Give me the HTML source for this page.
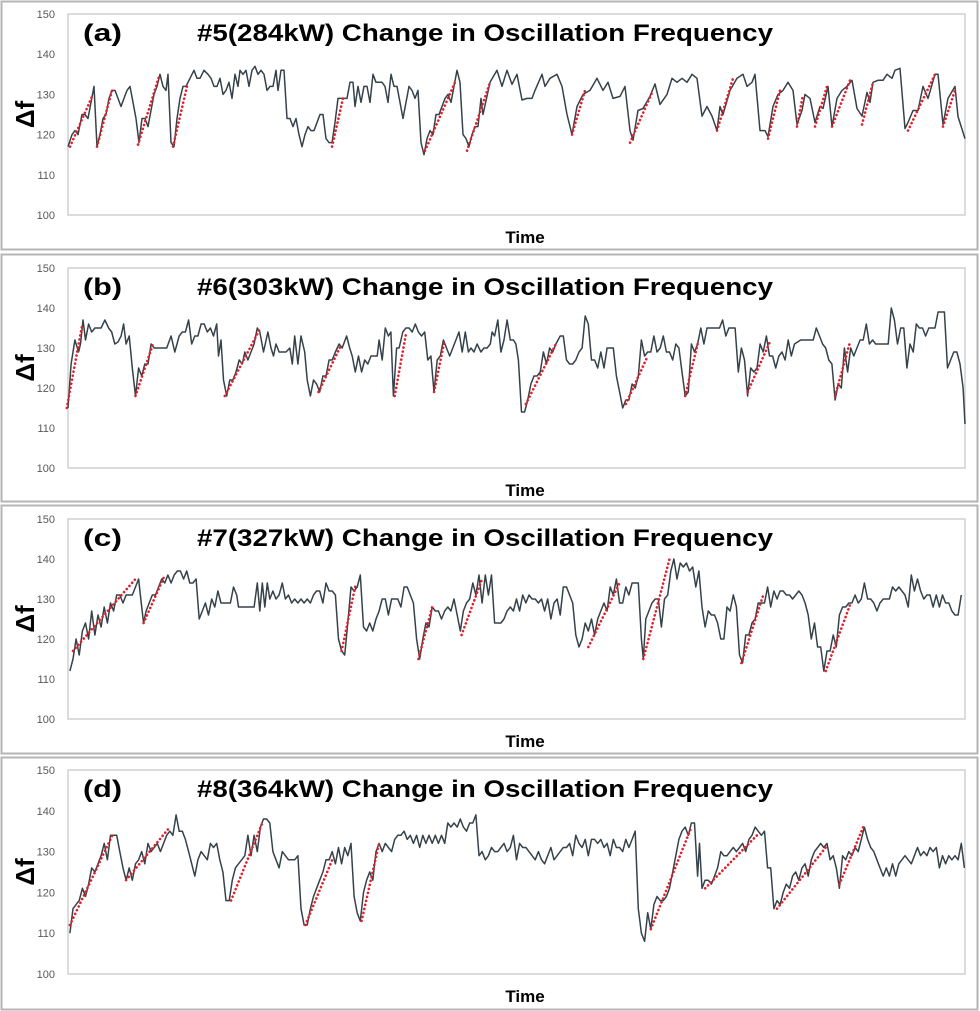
<!DOCTYPE html>
<html><head><meta charset="utf-8"><style>
html,body{margin:0;padding:0;background:#fff;}
svg{display:block;font-family:"Liberation Sans",sans-serif;}
</style></head><body>
<svg id="fig" width="980" height="1011" viewBox="0 0 980 1011"></svg>
<script>
// Panel (a): time in pixel-index units (domain 68..965)
const tA=[68,72,75,78,82,85,88,91,94,97,100,103,106,109,112,115,118,121,124,127,130,133,136,139,142,145,148,151,154,157,160,163,166,168,171,174,177,180,183,186,190,194,197,200,204,208,211,214,217,220,223,226,229,232,235,238,240,243,246,249,252,255,258,261,264,267,270,273,276,278,281,284,287,290,293,296,299,302,305,308,311,314,317,320,323,326,329,332,335,338,341,344,347,350,353,355,358,361,364,367,370,373,376,379,382,385,388,391,394,397,400,403,406,409,412,415,418,421,424,427,430,433,436,439,442,445,448,451,454,457,460,463,466,469,472,475,478,481,483,490,497,502,507,512,517,522,527,532,535,542,545,550,557,562,567,572,577,583,590,597,603,608,613,620,625,630,633,638,643,650,655,660,667,672,677,682,687,692,697,702,707,712,717,720,723,730,737,743,747,752,755,760,765,768,773,778,783,788,793,797,802,805,810,815,820,823,828,832,837,842,847,852,857,862,867,870,873,878,883,887,892,895,900,905,908,913,918,923,928,935,938,943,948,955,958,965];
const vA=[117,120,121,120,125,125,124,128,132,117,120,124,125,129,131,131,129,127,129,131,132,128,124,118,124,124,122,126,130,132,135,132,131,135,118,117,124,129,132,132,134,136,134,134,136,135,134,132,132,134,130,131,133,129,135,132,136,135,136,132,136,137,135,136,135,131,132,132,136,131,136,136,124,124,122,124,120,117,120,122,121,121,123,125,125,119,118,118,123,129,129,129,129,133,133,127,132,128,132,132,128,135,133,133,133,132,128,135,132,132,128,124,128,132,131,129,131,118,115,119,121,120,125,125,127,129,130,128,132,136,133,120,119,117,120,122,122,129,125,133,136,132,136,132.5,135,128.6,129,129,131,135,132,134,135,132,125,120,127,130,131,134,131,133,129,129.5,132,121,118.6,126,126.5,129.5,132.6,127.5,130,134,133,134,133,135,134,124.6,127,124.6,121,127,125,131,134,135,132,133,135,121,121,119.5,127,130,131,133,131,122.5,126,130,129,123,127,126.5,132,122,129,131,132,133.5,126.5,124.6,130.5,128,133,133.5,133.5,135,134,136,136.5,121.5,123,126,126,132,129,135,135,122.5,129,132,124.5,119];
const rA=[[70,117,93,130],[97,117,112,131],[138,117.5,159,134.5],[173,117,187,132],[332,117,343,129],[425,116,455,133],[467,116,490,133],[572,120,585,131],[630,118,653,131],[717,121,733,134],[768,119,780,131],[797,122,803,130],[815,122,827,132],[832,122,850,133.5],[862,122.5,873,133],[908,121,935,135],[943,122,955,131]];

// Panels (b)-(d): time in index units (domain 107..1543)
const tB=[107,112,118,124,127,131,135,140,145,150,160,166,172,177,182,187,192,196,200,205,210,215,220,225,230,235,240,245,255,265,272,278,285,290,295,300,305,310,315,320,325,330,335,340,345,348,352,356,361,366,371,376,381,386,390,395,400,405,410,414,420,427,432,436,440,445,450,456,462,466,470,475,480,486,490,495,500,505,510,515,520,525,530,535,541,546,553,558,562,567,572,577,582,587,592,597,602,605,610,615,620,624,628,633,637,643,648,653,658,663,668,673,678,683,688,693,698,703,708,713,718,723,728,733,738,743,748,752,757,762,768,773,778,783,786,790,795,800,805,810,815,820,824,828,833,838,843,848,853,858,863,868,873,878,883,888,895,900,905,910,915,920,925,930,935,940,945,950,955,960,965,970,975,980,985,990,995,1000,1005,1010,1015,1020,1025,1030,1035,1040,1045,1050,1055,1060,1065,1070,1075,1080,1085,1090,1095,1100,1105,1110,1115,1120,1125,1130,1140,1150,1155,1160,1165,1175,1180,1185,1190,1195,1200,1205,1210,1215,1220,1225,1230,1235,1240,1245,1250,1255,1260,1265,1270,1280,1290,1300,1305,1310,1315,1320,1325,1330,1335,1340,1345,1350,1355,1360,1365,1370,1375,1380,1385,1390,1395,1400,1420,1425,1430,1435,1440,1445,1450,1455,1460,1465,1470,1475,1480,1485,1490,1495,1500,1510,1515,1520,1525,1530,1535,1540,1543];
const vB=[115,126,132,129,131,137,132,136,134,135,135,137,135,134,131,131.5,133,136,131,133,125,118,125,123,126,126,131,130,130,130,133,129,133,134,134,137,131,133,133,136,136,134,135,133,136,128,132,122,118,122,122,124,127,126,129,127,129,131,135,134,129,134,130,128,131,129,129,129,130,126,133,126,133,129,122,118,122,121,119,123,123,127,127,129,131,130,133,130,128,124,128,124,127,126,128,128,128,132,127,135,133,134,118,130,130,134,135,135,134,136,134,133,134,127,128,119,127,128,132,130,128,130,132,134,129,134,129,130,129,131,129,130,130,131,134,133,137,129,132,137,132,132,131,127,114,114,117,121,123,123,124,129,126,130,129,131,133,133,127,126,126,127,129,130,138,136,127,127,125,129,125,130,130,130,123,119,115,117,117,121,120,123,132,128,129,129,133,129,130,133,129,129,127,131,130,124,118,119,131,129,131,135,131,135,135,135,137,133,135,135,124,130,127,118,125,124,125,131,129,133,128,128,125,128,129,127,132,128,131,132,132,132,135,133,131,130,127,126,117,121,120,130,124,130,128,130,132,132,136,131,132,131,131,140,137,131,135,135,125,131,129,136,135,135,133,135,135,135,139,139,125,127,129,129,126,120,111];
const rB=[[105,115,130,136],[215,118,243,131],[358,118,415,135],[508,119,545,131],[630,118,648,133.5],[693,119,710,132],[840,116,888,131],[1000,116,1035,128],[1095,118,1115,131],[1195,119,1232,132],[1335,118,1358,131]];

const tC=[110,115,120,125,130,135,140,145,150,155,160,165,170,175,180,185,190,195,200,210,215,220,225,228,232,237,242,247,252,257,262,267,272,277,282,287,292,297,302,307,312,317,322,327,332,337,342,347,352,357,362,367,372,377,380,390,400,405,410,414,418,422,426,430,435,440,445,450,455,460,465,470,475,480,485,490,495,500,505,510,515,520,525,530,535,540,545,550,555,560,565,570,575,580,585,590,595,600,605,610,615,620,625,630,635,640,645,650,655,660,665,670,675,680,685,690,695,700,705,710,715,720,725,730,735,740,745,750,755,760,765,770,775,780,785,790,795,800,805,810,815,820,825,830,835,840,845,850,855,860,865,870,875,880,885,890,895,900,905,910,915,920,925,930,935,940,945,950,955,960,965,970,975,980,985,990,995,1000,1005,1010,1015,1020,1025,1028,1032,1037,1042,1047,1052,1057,1062,1067,1072,1077,1082,1087,1092,1097,1102,1107,1112,1117,1122,1127,1132,1137,1142,1147,1152,1157,1162,1167,1172,1177,1182,1187,1192,1197,1202,1207,1212,1217,1222,1227,1232,1237,1242,1247,1252,1257,1262,1267,1272,1277,1282,1287,1292,1297,1302,1307,1312,1317,1322,1327,1332,1337,1342,1347,1352,1357,1362,1367,1372,1377,1382,1387,1392,1397,1402,1407,1412,1417,1422,1427,1432,1437,1442,1447,1452,1457,1462,1467,1472,1477,1482,1487,1492,1497,1502,1507,1512,1517,1522,1527,1532,1537];
const vC=[112,115,120,116,122,124,120,127,121,126,123,128,124,129,127,131,131,129,131,131,133,135,128,124,127,129,131,131,133,135,134,136,134,136,137,137,135,137,134,134,135,125,127,129,126,130,128,132,129,129,129,129,133,131,128,128,128,128,134,127,134,128,134,130,132,130,131,134,130,131,129,130,129,130,129,130,129,131,132,132,129,134,132,132,131,120,117,116,124,133,132,133,136,123,122,124,122,125,127,130,130,126,130,130,130,128,133,133,131,129,120,115,120,124,123,128,127,127,125,127,128,127,130,126,122,127,129,130,134,131,136,129,136,131,136,124,124,124,125,127,128,127,130,127,131,129,131,130,130,129,130,127,130,125,129,130,126,133,133,131,129,121,118,120,124,122,125,121,125,127,129,127,133,131,135,129,129,133,131,134,134,134,120,115,125,127,129,130,130,123,130,131,137,140,135,139,138,139,137,138,133,137,128,123,127,126,126,124,120,120,128,127,131,128,116,114,121,121,124,125,129,129,129,133,128,132,130,132,132,131,131,130,131,132,131,129,126,120,124,118,118,112,117,117,121,118,126,128,128,129,129,131,129,130,134,130,130,129,127,129,130,130,130,133,132,133,132,131,128,136,132,135,132,130,131,131,128,131,128,131,129,129,127,126,126,131];
const rC=[[115,117,215,135],[228,124,262,136],[545,117,568,134],[668,115,690,128],[737,121,770,135],[940,118,990,134],[1028,115,1070,140],[1185,114,1220,131],[1320,112,1360,129]];

const tD=[110,115,120,125,130,135,140,145,150,155,160,165,170,175,180,185,190,195,200,205,210,215,220,225,230,235,240,245,250,255,260,265,270,275,280,285,290,295,300,305,310,315,320,325,330,335,340,345,350,355,360,365,370,375,380,385,390,395,400,405,410,415,420,425,430,435,440,445,450,455,460,470,475,480,485,490,495,500,505,510,515,520,525,530,535,540,545,550,555,560,565,570,575,580,585,590,595,600,605,610,615,620,625,630,635,640,645,650,655,660,665,670,675,680,685,690,695,700,705,710,715,720,725,730,735,740,745,750,755,760,765,770,775,780,785,790,795,800,805,810,815,820,825,830,835,840,845,850,855,860,865,870,875,880,885,890,895,900,905,910,915,920,925,930,935,940,945,950,955,960,965,970,975,980,985,990,995,1000,1005,1010,1015,1020,1025,1030,1035,1040,1045,1050,1055,1060,1065,1070,1075,1080,1085,1090,1095,1100,1105,1110,1115,1118,1122,1127,1132,1137,1142,1147,1152,1157,1162,1167,1172,1177,1182,1187,1192,1197,1202,1207,1212,1217,1222,1227,1232,1237,1242,1247,1252,1257,1262,1267,1272,1277,1282,1287,1292,1297,1302,1307,1312,1317,1322,1327,1332,1337,1342,1347,1352,1357,1362,1367,1372,1377,1382,1387,1392,1397,1402,1407,1412,1417,1422,1427,1432,1437,1442,1447,1452,1457,1462,1467,1472,1477,1482,1487,1492,1497,1502,1507,1512,1517,1522,1527,1532,1537,1542];
const vD=[110,116,117,118,121,119,122,126,125,127,129,132,128,134,134,134,130,126,123,126,123,127,128,130,127,132,130,131,132,130,132,134,135,134,139,135,135,133,130,127,124,128,130,129,128,132,131,132,128,125,118,118,123,126,127,128,129,134,129,134,130,136,138,138,137,130,128,126,130,129,128,128,129,116,112,112,116,119,121,123,125,128,128,130,127,131,127,131,129,132,119,115,113,120,123,125,123,130,132,130,132,131,130,133,134,134,135,133,134,132,134,131,134,132,134,132,134,132,134,132,137,136,137,136,138,136,135,137,137,139,129,130,128,129,131,130,130,131,132,130,131,134,128,132,131,131,130,129,128,130,128,127,129,131,128,129,130,131,131,132,129,134,132,131,133,129,133,133,132,133,131,132,129,133,131,131,130,133,131,133,135,116,110,108,115,111,117,119,118,118,119,121,125,129,133,135,136,134,137,137,124,132,121,123,123,122,124,126,130,129,129,130,131,130,131,132,130,133,134,136,135,134,135,126,126,116,118,117,120,122,121,124,125,123,126,127,124,128,130,131,132,131,132,128,129,126,121,129,128,130,129,131,130,133,136,133,131,130,128,126,124,126,124,127,124,127,128,129,128,127,129,131,129,130,129,131,130,131,126,129,127,129,128,129,128,132,126];
const rD=[[110,112,178,134],[200,123,270,136],[368,118,418,137],[487,112,530,128],[577,113,605,132],[1040,111,1105,136],[1127,121,1210,134],[1242,116,1320,131],[1342,122,1380,136]];

const yTicks=[100,110,120,130,140,150];
const labels=['(a)','(b)','(c)','(d)'];
const titles=['#5(284kW) Change in Oscillation Frequency','#6(303kW) Change in Oscillation Frequency','#7(327kW) Change in Oscillation Frequency','#8(364kW) Change in Oscillation Frequency'];

const NS='http://www.w3.org/2000/svg';
const svg=document.getElementById('fig');
function mk(tag,attrs,parent,text){const e=document.createElementNS(NS,tag);for(const k in attrs)e.setAttribute(k,attrs[k]);if(text!==undefined)e.textContent=text;(parent||svg).appendChild(e);return e;}

const panels=[
 {t:tA,v:vA,r:rA,d0:68,d1:965,boxTop:1,boxBot:249,top:14,bot:215},
 {t:tB,v:vB,r:rB,d0:107,d1:1543,boxTop:254,boxBot:501,top:268,bot:468},
 {t:tC,v:vC,r:rC,d0:107,d1:1543,boxTop:505,boxBot:753,top:519,bot:719},
 {t:tD,v:vD,r:rD,d0:107,d1:1543,boxTop:757,boxBot:1009,top:770,bot:974}
];
const X0=68,X1=965;
panels.forEach((p,i)=>{
  const g=mk('g',{});
  
  
  const xs=t=>X0+(t-p.d0)/(p.d1-p.d0)*(X1-X0);
  const ys=v=>p.bot-(v-100)/50*(p.bot-p.top);
  const box=mk('rect',{x:1.5,y:p.boxTop+0.5,width:976,height:p.boxBot-p.boxTop,fill:'#fff',stroke:'#b5b5b5','stroke-width':2},g);
  
  
  const pa=mk('rect',{x:X0,y:p.top,width:X1-X0,height:p.bot-p.top,fill:'none',stroke:'#d0d0d0','stroke-width':1.5},g);
  
  
  yTicks.forEach(tv=>{
    const tl=mk('text',{x:55,y:ys(tv)+4,'text-anchor':'end','font-size':11,fill:'#595959'},g,String(tv));
    
    
  });
  const cy=(p.top+p.bot)/2;
  const yt=mk('text',{x:0,y:0,transform:`translate(34,${cy}) rotate(-90)`,'text-anchor':'middle','font-size':26,'font-weight':'bold',fill:'#000'},g,'Δf');
  
  
  const xt=mk('text',{x:525,y:p.bot+28,'text-anchor':'middle','font-size':17,'font-weight':'bold',fill:'#000'},g,'Time');
  
  
  const lb=mk('text',{x:83,y:p.top+27,'font-size':24,'font-weight':'bold',fill:'#000',textLength:39,lengthAdjust:'spacingAndGlyphs'},g,labels[i]);
  
  
  const tt=mk('text',{x:197,y:p.top+27,'font-size':24,'font-weight':'bold',fill:'#000',textLength:576,lengthAdjust:'spacingAndGlyphs'},g,titles[i]);
  
  
  let d='';
  p.t.forEach((t,k)=>{d+=(k?'L':'M')+xs(t).toFixed(1)+','+ys(p.v[k]).toFixed(1);});
  const ln=mk('path',{d:d,fill:'none',stroke:'#36424a','stroke-width':1.5,'stroke-linejoin':'round'},g);
  
  
  p.r.forEach(s=>{
    const rl=mk('line',{x1:xs(s[0]),y1:ys(s[1]),x2:xs(s[2]),y2:ys(s[3]),stroke:'#e0202a','stroke-width':2.6,'stroke-dasharray':'0.1,4','stroke-linecap':'round'},g);
    
    
  });
});
</script>
</body></html>
